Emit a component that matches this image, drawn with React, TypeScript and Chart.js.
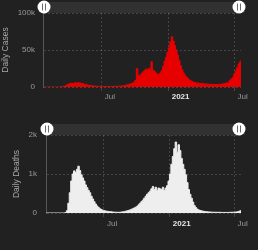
import React, { useEffect, useRef } from "react";
import { Chart, registerables } from "chart.js";

Chart.register(...registerables);

// Day numbers count from 2020-01-01 (day 0). Data sampled every 4 days from 2020-01-22.
const START_DAY = 21;
const STEP_DAYS = 4;
const AXIS_MIN = 20;
const AXIS_MAX = 565;

const tickDays = [182, 366, 547];
const tickLabels = ["Jul", "2021", "Jul"];

const dailyCases = [
  0, 0, 0, 0, 0, 0, 0, 0, 0, 10,
  40, 100, 250, 600, 1000, 1800, 3000, 4000, 4600, 5200,
  4900, 5300, 5700, 5500, 5800, 5400, 4800, 4300, 3700, 3200,
  2700, 2300, 1900, 1600, 1400, 1200, 1100, 1000, 900, 850,
  800, 650, 600, 650, 600, 700, 750, 800, 850, 900,
  900, 1000, 1100, 1200, 1400, 1700, 2100, 2800, 3400, 3900,
  4300, 5400, 6500, 9000, 25000, 15000, 16000, 17500, 20000, 21500,
  24000, 22500, 25000, 23000, 34000, 23000, 21000, 19000, 17500, 17000,
  19000, 22000, 28000, 35000, 40000, 47000, 53000, 61000, 68000, 62000,
  56000, 50000, 43000, 36000, 29000, 23000, 19000, 16000, 13500, 11500,
  9500, 8500, 7500, 6500, 6000, 5500, 5200, 5000, 4800, 4600,
  4400, 4200, 4000, 3800, 3700, 3600, 3500, 3500, 3400, 3400,
  3500, 3600, 3800, 4200, 4700, 5000, 5500, 6500, 9000, 11000,
  13000, 17000, 22000, 26000, 31000, 34000, 37000,
];

const dailyDeaths = [
  0, 0, 0, 0, 0, 0, 0, 0, 0, 0,
  0, 0, 0, 10, 60, 250, 520, 820, 1000, 1080,
  1040, 1120, 1200, 1090, 980, 900, 820, 720, 650, 580,
  520, 430, 360, 290, 230, 180, 140, 110, 90, 70,
  60, 50, 45, 40, 35, 30, 25, 22, 20, 18,
  18, 20, 25, 30, 35, 45, 55, 65, 80, 95,
  110, 130, 150, 170, 210, 250, 290, 330, 380, 430,
  480, 520, 560, 620, 680, 600, 660, 580, 640, 620,
  600, 660, 580, 640, 700, 820, 1000, 1250, 1450, 1650,
  1820, 1560, 1750, 1600, 1400, 1250, 1120, 980, 780, 600,
  480, 380, 280, 190, 140, 100, 80, 65, 55, 45,
  40, 35, 30, 28, 25, 22, 20, 20, 18, 18,
  18, 18, 15, 15, 15, 15, 15, 15, 18, 18,
  20, 22, 25, 30, 40, 55, 70,
];

const BG = "#212121";
const NAV_BAR = "#313131";
const GRID = "rgba(255,255,255,0.16)";
const AXIS_LINE = "#575757";
const TICK_COLOR = "#9a9a9a";
const TITLE_COLOR = "#a8a8a8";
const FONT = "'Liberation Sans', Arial, sans-serif";

const navigatorPlugin = {
  id: "navigatorBar",
  beforeDraw(chart: any) {
    const { ctx, chartArea: a } = chart;
    ctx.save();
    ctx.fillStyle = NAV_BAR;
    ctx.fillRect(a.left, a.top - 11, a.right - a.left + 4, 11);
    ctx.restore();
  },
  afterDraw(chart: any) {
    const { ctx, chartArea: a } = chart;
    const cy = a.top - 6;
    [a.left + 1, a.right - 2].forEach((cx: number) => {
      ctx.save();
      ctx.beginPath();
      ctx.arc(cx, cy, 6.5, 0, Math.PI * 2);
      ctx.fillStyle = "#ffffff";
      ctx.fill();
      ctx.strokeStyle = "#6a6a6a";
      ctx.lineWidth = 1;
      ctx.beginPath();
      ctx.moveTo(Math.round(cx) - 1.5, cy - 3.5);
      ctx.lineTo(Math.round(cx) - 1.5, cy + 3.5);
      ctx.moveTo(Math.round(cx) + 1.5, cy - 3.5);
      ctx.lineTo(Math.round(cx) + 1.5, cy + 3.5);
      ctx.stroke();
      ctx.restore();
    });
  },
};

type PanelProps = {
  values: number[];
  color: string;
  yMax: number;
  yStep: number;
  yFormat: (v: number) => string;
  title: string;
  yWidth: number;
  titlePad: number;
  yTickPad: number;
  topPad: number;
  xHeight: number;
  xPad: number;
  height: number;
  top: number;
};

function Panel(p: PanelProps) {
  const ref = useRef<HTMLCanvasElement | null>(null);
  useEffect(() => {
    if (!ref.current) return;
    const points = p.values.map((v, i) => ({ x: START_DAY + i * STEP_DAYS, y: v }));
    const chart = new Chart(ref.current, {
      type: "line",
      data: {
        datasets: [
          {
            data: points,
            stepped: "before",
            fill: "origin",
            backgroundColor: p.color,
            borderColor: p.color,
            borderWidth: 1,
            pointRadius: 0,
            tension: 0,
          },
        ],
      },
      options: {
        animation: false,
        responsive: false,
        devicePixelRatio: 1,
        layout: { padding: { left: 0, right: 17, top: p.topPad, bottom: 0 } },
        plugins: { legend: { display: false }, tooltip: { enabled: false } },
        scales: {
          x: {
            type: "linear",
            min: AXIS_MIN,
            max: AXIS_MAX,
            afterBuildTicks: (s: any) => {
              s.ticks = tickDays.map((v) => ({ value: v }));
            },
            afterFit: (s: any) => {
              s.paddingLeft = 0;
              s.paddingRight = 0;
              s.height = p.xHeight;
            },
            grid: { color: GRID, tickLength: 4 },
            border: { display: false, dash: [2, 2] },
            ticks: {
              autoSkip: false,
              maxRotation: 0,
              align: "start",
              labelOffset: 3,
              padding: p.xPad,
              callback: (_v: any, i: number) => tickLabels[i],
              color: (c: any) => (c.index === 1 ? "#e6e6e6" : TICK_COLOR),
              font: (c: any) => ({
                family: FONT,
                size: 8,
                weight: c.index === 1 ? "bold" : "normal",
              }),
            },
          },
          y: {
            min: 0,
            max: p.yMax,
            afterFit: (s: any) => {
              s.width = p.yWidth;
            },
            grid: { color: GRID, drawTicks: false },
            border: { display: true, color: AXIS_LINE, dash: [2, 2] },
            ticks: {
              stepSize: p.yStep,
              padding: p.yTickPad,
              color: TICK_COLOR,
              font: { family: FONT, size: 8 },
              callback: (v: any) => p.yFormat(Number(v)),
            },
            title: {
              display: true,
              text: p.title,
              color: TITLE_COLOR,
              font: { family: FONT, size: 8.5 },
              padding: { top: p.titlePad, bottom: 0 },
            },
          },
        },
      },
      plugins: [navigatorPlugin],
    } as any);
    return () => chart.destroy();
  }, []);
  return (
    <canvas
      ref={ref}
      width={258}
      height={p.height}
      style={{ position: "absolute", left: 0, top: p.top, width: 258, height: p.height }}
    />
  );
}

export default function App() {
  return (
    <div style={{ position: "fixed", left: 0, top: 0, width: 258, height: 250, background: BG, overflow: "hidden" }}>
      <Panel
        values={dailyCases}
        color="#e60000"
        yMax={100000}
        yStep={50000}
        yFormat={(v) => (v === 0 ? "0" : v / 1000 + "k")}
        title="Daily Cases"
        yWidth={43}
        titlePad={1}
        yTickPad={8}
        topPad={13}
        xHeight={33}
        xPad={1}
        height={120}
        top={0}
      />
      <Panel
        values={dailyDeaths}
        color="#eeeeee"
        yMax={2000}
        yStep={1000}
        yFormat={(v) => (v === 0 ? "0" : v / 1000 + "k")}
        title="Daily Deaths"
        yWidth={46}
        titlePad={12}
        yTickPad={9}
        topPad={15}
        xHeight={37}
        xPad={2}
        height={130}
        top={120}
      />
    </div>
  );
}
